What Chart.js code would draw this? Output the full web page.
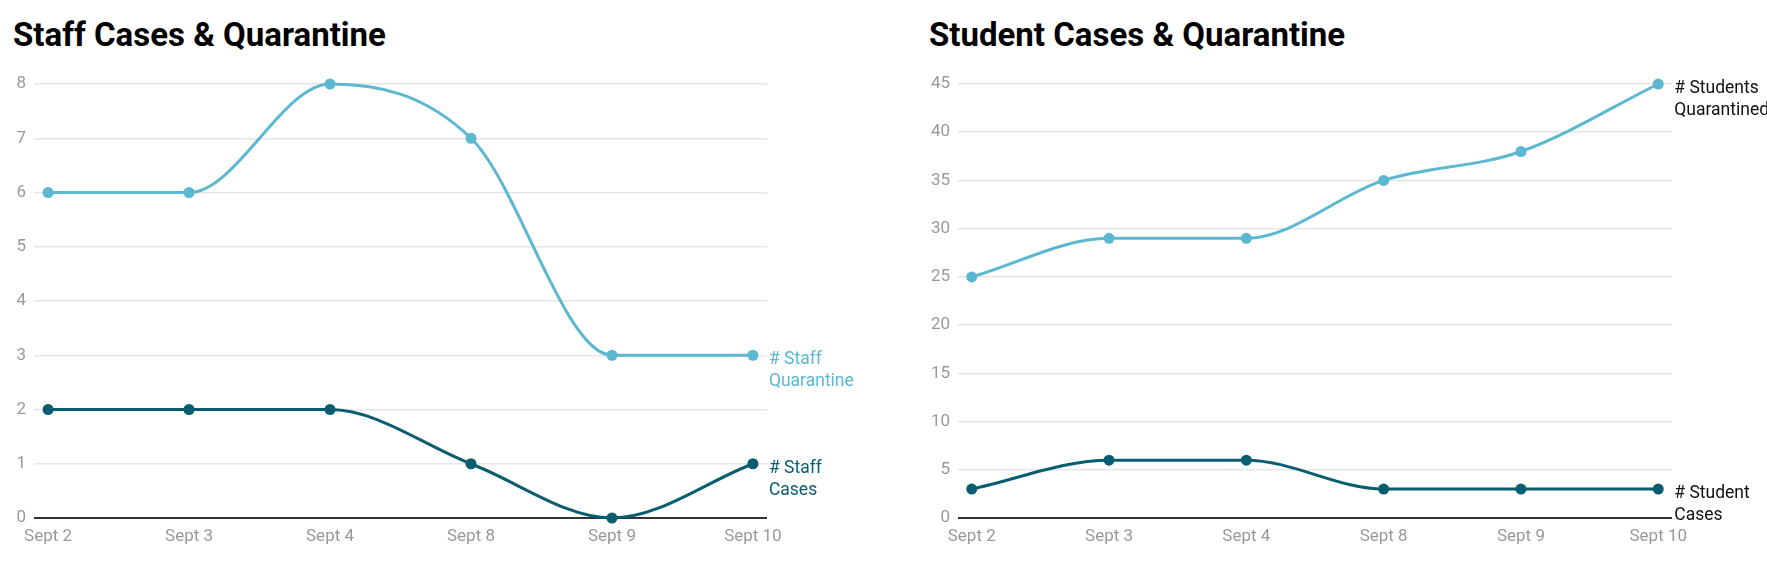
<!DOCTYPE html>
<html>
<head>
<meta charset="utf-8">
<script src="https://cdn.jsdelivr.net/npm/chart.js@4/dist/chart.umd.min.js"></script>
<style>
  body { margin: 0; background: #fff; width: 1767px; height: 566px; overflow: hidden; font-family: Roboto, sans-serif; }
  .title { position: absolute; top: 18px; font: bold 33px Roboto, sans-serif; color: #000; line-height: 1; white-space: nowrap; }
  .box { position: absolute; top: 0; height: 566px; }
</style>
</head>
<body>
<div class="title" style="left:13px">Staff Cases &amp; Quarantine</div>
<div class="title" style="left:929px">Student Cases &amp; Quarantine</div>
<div class="box" style="left:0;width:880px"><canvas id="staff"></canvas></div>
<div class="box" style="left:900px;width:867px"><canvas id="student"></canvas></div>
<script>
var dates = ['Sept 2', 'Sept 3', 'Sept 4', 'Sept 8', 'Sept 9', 'Sept 10'];
var staffQuarantine = [6, 6, 8, 7, 3, 3];
var staffCases = [2, 2, 2, 1, 0, 1];
var studentQuarantined = [25, 29, 29, 35, 38, 45];
var studentCases = [3, 6, 6, 3, 3, 3];

var lightBlue = '#5cb8d1';
var darkTeal = '#085e70';

var toPoints = function(values) {
	return values.map(function(v, i) { return { x: i, y: v }; });
};

// labels written next to the last point of each line
var endLabels = {
	id: 'endLabels',
	afterDatasetsDraw: function(chart) {
		var ctx = chart.ctx;
		ctx.save();
		ctx.font = '17.5px Roboto';
		ctx.textAlign = 'left';
		ctx.textBaseline = 'alphabetic';
		chart.data.datasets.forEach(function(ds, i) {
			var meta = chart.getDatasetMeta(i);
			var pt = meta.data[meta.data.length - 1];
			ctx.fillStyle = ds.labelColor;
			ds.endLabel.forEach(function(line, j) {
				ctx.fillText(line, pt.x + 16, pt.y + 9 + j * 22);
			});
		});
		ctx.restore();
	}
};

var makeChart = function(id, series, yMax, yStep, yWidth, rightPad) {
	var datasets = series.map(function(s) {
		return {
			data: toPoints(s.values),
			endLabel: s.label,
			labelColor: s.labelColor,
			borderColor: s.colour,
			backgroundColor: s.colour,
			pointBackgroundColor: s.colour,
			borderWidth: 3,
			pointRadius: 5.5,
			pointBorderWidth: 0,
			cubicInterpolationMode: 'monotone',
			clip: false,
			fill: false
		};
	});
	return new Chart(document.getElementById(id), {
		type: 'line',
		data: { datasets: datasets },
		options: {
			responsive: false,
			animation: false,
			maintainAspectRatio: false,
			layout: { padding: { top: 84, right: rightPad, bottom: 0, left: 0 } },
			plugins: { legend: { display: false }, tooltip: { enabled: false } },
			scales: {
				x: {
					type: 'linear',
					min: -0.1,
					max: 5.1,
					grid: { display: false, drawTicks: false },
					border: { display: false },
					afterFit: function(s) { s.height = 48; },
					ticks: {
						stepSize: 1,
						includeBounds: false,
						autoSkip: false,
						maxRotation: 0,
						padding: 9,
						color: '#999',
						font: { family: 'Roboto', size: 17 },
						callback: function(v) { return dates[v]; }
					}
				},
				y: {
					min: 0,
					max: yMax,
					grid: {
						drawTicks: false,
						lineWidth: function(c) { return c.tick.value === 0 ? 2 : 1.5; },
						color: function(c) { return c.tick.value === 0 ? '#333' : '#e6e6e6'; }
					},
					border: { display: false },
					afterFit: function(s) { s.width = yWidth; },
					ticks: {
						stepSize: yStep,
						padding: 8,
						color: '#999',
						font: { family: 'Roboto', size: 17 }
					}
				}
			}
		},
		plugins: [endLabels]
	});
};

var c1 = document.getElementById('staff');
c1.width = 880; c1.height = 566;
var c2 = document.getElementById('student');
c2.width = 867; c2.height = 566;

makeChart('staff', [
	{ values: staffQuarantine, colour: lightBlue, labelColor: lightBlue, label: ['# Staff', 'Quarantine'] },
	{ values: staffCases, colour: darkTeal, labelColor: darkTeal, label: ['# Staff', 'Cases'] }
], 8, 1, 34, 113);

makeChart('student', [
	{ values: studentQuarantined, colour: lightBlue, labelColor: '#111', label: ['# Students', 'Quarantined'] },
	{ values: studentCases, colour: darkTeal, labelColor: '#111', label: ['# Student', 'Cases'] }
], 45, 5, 58, 95);
</script>
</body>
</html>
